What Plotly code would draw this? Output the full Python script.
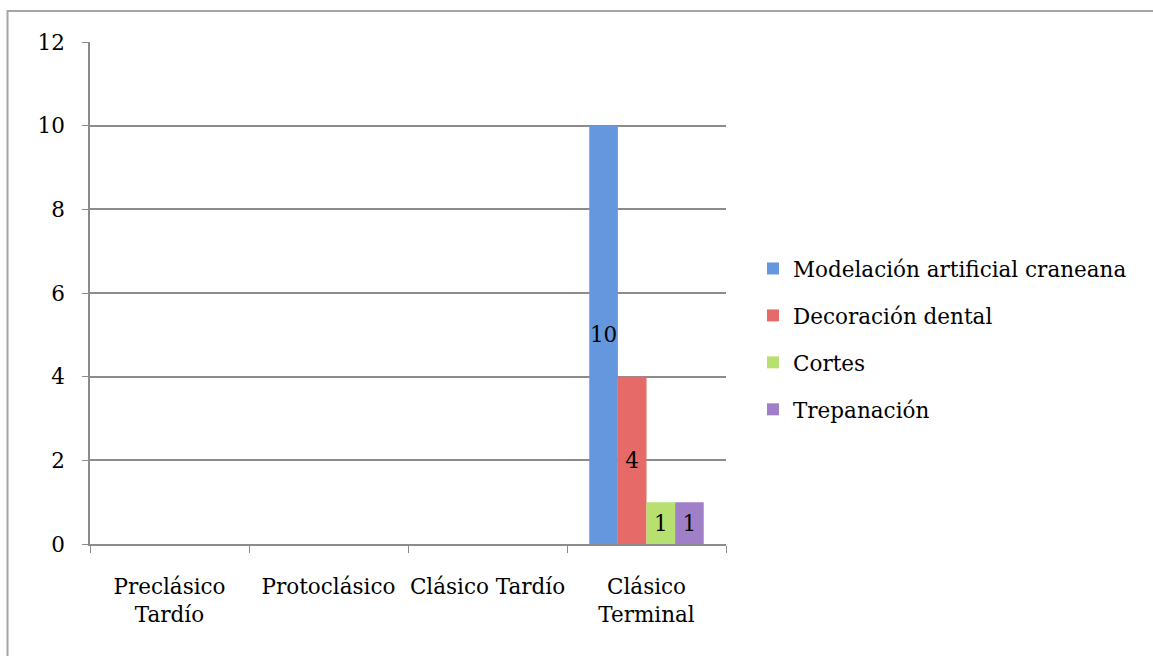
import plotly.graph_objects as go

categories = ["Preclásico<br>Tardío", "Protoclásico", "Clásico Tardío", "Clásico<br>Terminal"]
series_names = ["Modelación artificial craneana", "Decoración dental", "Cortes", "Trepanación"]
modelacion = [0, 0, 0, 10]
decoracion = [0, 0, 0, 4]
cortes = [0, 0, 0, 1]
trepanacion = [0, 0, 0, 1]
y_ticks = [0, 2, 4, 6, 8, 10, 12]

series_values = [modelacion, decoracion, cortes, trepanacion]
colors = ["#6497DD", "#E66A68", "#B8E071", "#A07FC8"]

FONT = "DejaVu Serif"
FS = 21.5
W, H = 1153, 656
L, R, T, B = 90, 427, 42, 112

fig = go.Figure()
for name, vals, col in zip(series_names, series_values, colors):
    fig.add_trace(go.Bar(
        x=categories, y=vals, name=name,
        marker=dict(color=col, line=dict(width=0)),
        text=[str(v) if v else "" for v in vals],
        textposition="inside", insidetextanchor="middle", textangle=0,
        textfont=dict(family=FONT, size=FS, color="black"),
        legendgroup=name,
    ))

pw = W - L - R
ph = H - T - B
# outer frame (pixel positions converted to paper coordinates)
fig.add_shape(type="rect", xref="paper", yref="paper",
              x0=(7.5 - L) / pw, x1=(1170 - L) / pw,
              y0=(T + ph - 680) / ph, y1=(T + ph - 11) / ph,
              line=dict(color="#A6A6A6", width=2), fillcolor="rgba(0,0,0,0)", layer="below")

fig.update_layout(
    width=W, height=H,
    margin=dict(l=L, r=R, t=T, b=B, autoexpand=False),
    paper_bgcolor="white", plot_bgcolor="white",
    barmode="group", bargap=0.28, bargroupgap=0,
    font=dict(family=FONT, size=FS, color="black"),
    uniformtext=dict(minsize=FS, mode="show"),
    showlegend=True,
    legend=dict(x=(753 - L) / pw, xanchor="left", xref="paper",
                y=(T + ph - 339) / ph, yanchor="middle",
                font=dict(family=FONT, size=FS), tracegroupgap=16,
                itemwidth=30, bgcolor="rgba(0,0,0,0)"),
    xaxis=dict(showline=True, linecolor="#8C8C8C", linewidth=1.5,
               ticks="outside", tickson="boundaries", ticklen=7, tickcolor="#8C8C8C",
               showgrid=False, ticklabelstandoff=22, tickangle=0,
               tickfont=dict(family=FONT, size=FS)),
    yaxis=dict(range=[0, 12], tickvals=y_ticks, showline=True, linecolor="#8C8C8C",
               linewidth=1.5, ticks="outside", ticklen=6, tickcolor="#8C8C8C",
               showgrid=True, gridcolor="#8C8C8C", gridwidth=1.5, zeroline=False,
               ticklabelstandoff=13, tickfont=dict(family=FONT, size=FS)),
)

fig.write_html("out.html", config={"displayModeBar": False},
               post_script="document.body.style.margin='0';")
